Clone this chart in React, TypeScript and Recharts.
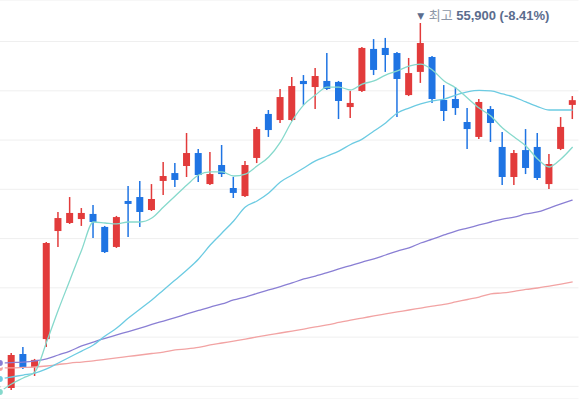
import { ComposedChart, Bar, Line, XAxis, YAxis, CartesianGrid, ReferenceDot } from 'recharts';

// session index; 0 is the day before the visible window (only the averages show there)
const days = [
  0, 1, 2, 3, 4, 5, 6, 7, 8, 9, 10, 11, 12, 13, 14, 15, 16, 17, 18, 19, 20, 21, 22, 23, 24,
  25, 26, 27, 28, 29, 30, 31, 32, 33, 34, 35, 36, 37, 38, 39, 40, 41, 42, 43, 44, 45, 46, 47, 48, 49,
];

const opens = [
  33670, 35740, 34950, 36650, 43230, 43720, 43960, 44270, 43480, 42260, 45060, 45300, 44510, 46280,
  46760, 47190, 47980, 46090, 47250, 45850, 45360, 47680, 50360, 49990, 49990, 52370, 52000, 52370,
  52310, 50780, 51760, 54320, 54380, 54070, 51510, 52920, 53830, 51210, 51270, 49870, 48960, 50660,
  48350, 46520, 48160, 48350, 46090, 48230, 50910,
];
const highs = [
  35800, 36170, 35440, 42560, 44390, 45300, 44630, 44820, 43540, 44150, 45970, 46280, 46090, 47430,
  47370, 49200, 48230, 48040, 48470, 46520, 47500, 49570, 50600, 51880, 52610, 52730, 53160, 54070,
  52370, 51760, 54440, 54920, 54990, 54130, 53770, 55900, 53890, 52120, 52000, 50720, 51270, 50840,
  49260, 48160, 49440, 49200, 47920, 50170, 51450,
];
const lows = [
  33550, 34830, 34400, 36170, 42260, 43660, 43540, 42810, 41890, 42200, 42870, 43480, 44450, 45420,
  45910, 46520, 46220, 46030, 46520, 45240, 45300, 47370, 48960, 49810, 49930, 50910, 50660, 51820,
  50050, 50110, 51700, 52730, 52920, 50170, 51450, 52250, 51030, 49930, 50300, 48230, 48830, 48650,
  46030, 46030, 46700, 46340, 45790, 48160, 50050,
];
const closes = [
  35680, 34890, 35380, 42500, 44020, 44330, 44330, 43780, 41950, 44080, 44880, 44390, 45180, 46580,
  46340, 47980, 46640, 46700, 46700, 45550, 47250, 49440, 49380, 51390, 52060, 52180, 52670, 51880,
  51150, 51030, 54380, 53040, 53950, 52490, 52850, 54680, 51270, 50540, 50720, 49440, 51090, 49810,
  46520, 47980, 47070, 46460, 47310, 49570, 51200,
];

const ma5 = [
  33430, 33910, 34280, 34650, 36470, 38420, 40250, 42080, 43780, 43720, 43660, 43780, 43780, 44020,
  44690, 45360, 46030, 46640, 46830, 46830, 46580, 46700, 47190, 47740, 48650, 49930, 50910, 51510,
  52000, 52000, 51820, 52180, 52370, 52730, 52980, 53280, 53400, 53040, 52370, 51940, 51330, 50720,
  50240, 49500, 48960, 48410, 47620, 47130, 47620, 48350,
];
const ma20 = [
  34220, 34340, 34460, 34580, 34830, 35190, 35560, 35920, 36290, 36840, 37320, 37930, 38480, 39030,
  39640, 40250, 40860, 41530, 42380, 43110, 43840, 44690, 45060, 45550, 46220, 46640, 47070, 47500,
  47800, 48100, 48500, 48830, 49320, 49810, 50420, 50720, 50970, 51150, 51270, 51510, 51700, 51790,
  51760, 51580, 51390, 51090, 50810, 50600, 50600, 50600,
];
const ma60 = [
  35190, 35220, 35250, 35320, 35440, 35680, 35920, 36230, 36470, 36690, 36900, 37110, 37320, 37540,
  37750, 37960, 38180, 38390, 38600, 38790, 39030, 39210, 39430, 39640, 39850, 40070, 40310, 40490,
  40700, 40920, 41130, 41340, 41530, 41770, 42010, 42200, 42500, 42740, 42990, 43230, 43410, 43600,
  43780, 43960, 44080, 44270, 44390, 44630, 44880, 45120,
];
const ma120 = [
  34890, 34890, 34920, 34950, 35010, 35100, 35190, 35250, 35320, 35410, 35500, 35590, 35680, 35770,
  35860, 35990, 36050, 36140, 36290, 36410, 36530, 36650, 36780, 36900, 37020, 37140, 37260, 37390,
  37510, 37660, 37810, 37930, 38060, 38180, 38300, 38420, 38540, 38660, 38760, 38910, 39060, 39210,
  39400, 39460, 39550, 39670, 39760, 39880, 40000, 40130,
];

const gridTicks = [33770, 36770, 39770, 42770, 45770, 48770, 51770, 54770];
const highLabel = { day: 36, price: 55900, name: '최고', text: '55,900 (-8.41%)' };
const lowMark = { day: 0, price: 33500 };

const UP = '#e23b3b';
const DOWN = '#1f74e3';

const data = days.map((d, i) => {
  const k = i - 1;
  const row: any = { day: d, ma5: ma5[i], ma20: ma20[i], ma60: ma60[i], ma120: ma120[i] };
  if (k >= 0) {
    row.open = opens[k];
    row.high = highs[k];
    row.low = lows[k];
    row.close = closes[k];
  }
  return row;
});

const Candle = (props: any) => {
  const { x, y, width, height, payload } = props;
  if (payload.high == null || height == null) return null;
  const { open, close, high, low } = payload;
  const ratio = high > low ? height / (high - low) : 0;
  const top = y + (high - Math.max(open, close)) * ratio;
  const bot = y + (high - Math.min(open, close)) * ratio;
  const color = close >= open ? UP : DOWN;
  const cx = x + width / 2;
  return (
    <g>
      <line x1={cx} x2={cx} y1={y} y2={y + height} stroke={color} strokeWidth={1.5} />
      <rect x={x} y={top} width={width} height={Math.max(bot - top, 1.5)} fill={color} />
    </g>
  );
};

const HighMark = (p: any) => {
  const { cx, cy } = p;
  return (
    <g>
      <text x={cx} y={cy - 4} textAnchor="middle" fontSize={9} fill="#5b6d8e" fontFamily="DejaVu Sans">
        ▼
      </text>
      <text x={cx + 8} y={cy - 3} fontSize={13} fontFamily="'Liberation Sans', 'Noto Sans CJK KR', sans-serif">
        <tspan fill="#8c96a6">{highLabel.name} </tspan>
        <tspan fill="#5b6d8e" fontWeight="bold">{highLabel.text}</tspan>
      </text>
    </g>
  );
};

const PlusMark = (p: any) => {
  const { cx, cy } = p;
  return (
    <g stroke="#2a2a2a" strokeWidth={1.4}>
      <line x1={cx - 4} x2={cx + 4} y1={cy} y2={cy} />
      <line x1={cx} x2={cx} y1={cy - 4} y2={cy + 4} />
    </g>
  );
};

export default function App() {
  return (
    <div style={{ position: 'absolute', left: 0, top: 0, width: 580, height: 399, overflow: 'hidden', background: '#fff' }}>
      <div style={{ position: 'absolute', left: -6, top: 0 }}>
        <ComposedChart width={590} height={399} data={data} margin={{ top: 0, right: 5.5, bottom: 0, left: 0 }}>
          <CartesianGrid vertical={false} stroke="#efefef" />
          <XAxis dataKey="day" hide />
          <YAxis hide domain={[33000, 57300]} ticks={gridTicks} allowDataOverflow />
          <Line type="monotone" dataKey="ma120" stroke="#f2a3a3" strokeWidth={1.3} dot={false} isAnimationActive={false} />
          <Line type="monotone" dataKey="ma60" stroke="#8a7fd4" strokeWidth={1.3} dot={false} isAnimationActive={false} />
          <Line type="monotone" dataKey="ma20" stroke="#6ccbe2" strokeWidth={1.3} dot={false} isAnimationActive={false} />
          <Line type="monotone" dataKey="ma5" stroke="#86d9cc" strokeWidth={1.3} dot={false} isAnimationActive={false} />
          <Bar
            dataKey={(d: any) => (d.high != null ? [d.low, d.high] : null)}
            barSize={7}
            shape={<Candle />}
            isAnimationActive={false}
          />
          <ReferenceDot x={highLabel.day} y={highLabel.price} r={0} shape={HighMark} />
          <ReferenceDot x={lowMark.day} y={lowMark.price} r={0} shape={PlusMark} />
        </ComposedChart>
      </div>
    </div>
  );
}
